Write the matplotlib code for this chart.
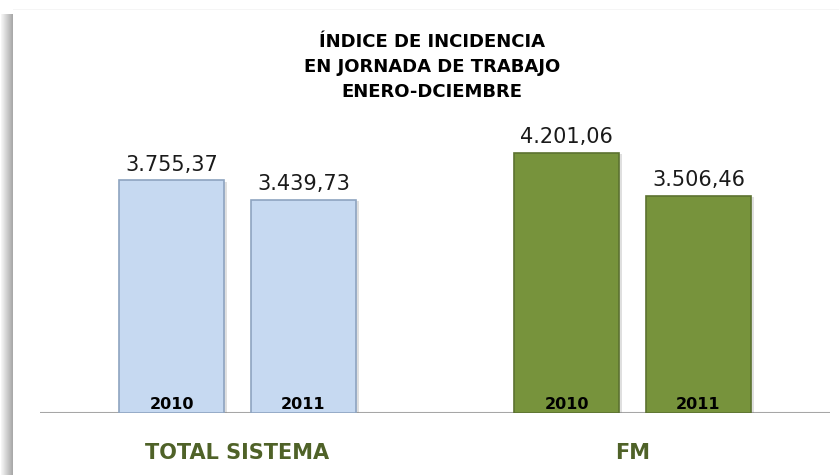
import matplotlib.pyplot as plt
import numpy as np
from matplotlib.patches import Rectangle

# --- Data ---
groups = ['TOTAL SISTEMA', 'FM']
years = ['2010', '2011']
total_sistema = [3755.37, 3439.73]
fm = [4201.06, 3506.46]

title_lines = ['ÍNDICE DE INCIDENCIA', 'EN JORNADA DE TRABAJO', 'ENERO-DCIEMBRE']


def fmt_es(v):
    s = f'{v:,.2f}'
    return s.replace(',', 'X').replace('.', ',').replace('X', '.')


narrow = ['Liberation Sans Narrow', 'DejaVu Sans']

fig = plt.figure(figsize=(8.39, 4.75), dpi=100)
fig.patch.set_facecolor('white')

# left shadow strip of the frame (darker towards the frame edge)
for i, a in enumerate(np.linspace(0.08, 0.75, 12)):
    fig.add_artist(Rectangle(((1 + i) / 839, 0), 1 / 839, 1 - 14 / 475,
                             transform=fig.transFigure, color='#8c8c8c',
                             alpha=a, lw=0))
# faint top edge of the frame
fig.add_artist(Rectangle((13 / 839, 1 - 10 / 475), 1, 1 / 475,
                         transform=fig.transFigure, color='gray',
                         alpha=0.08, lw=0))

ax = fig.add_axes([40 / 839, 62 / 475, 790 / 839, 310 / 475])
ax.set_xlim(-0.5, 1.5)
ax.set_ylim(0, 5000)
ax.axis('off')

# baseline and faint shadow under it
ax.axhline(0, color='#a6a6a6', lw=1.5, zorder=1)
for k, a in enumerate([0.10, 0.07, 0.04]):
    ax.axhline(-(k + 1) * 35, color='gray', alpha=a, lw=3, zorder=0)

offset = 0.167
width = 0.268
series = [total_sistema, fm]
face = ['#c6d9f1', '#77933c']
edge = ['#8ea4c0', '#5c7230']

for gi, vals in enumerate(series):
    for yi, v in enumerate(vals):
        x = gi + (yi * 2 - 1) * offset
        # drop shadow
        ax.bar(x + 0.006, v, width=width, bottom=-25, color='gray',
               alpha=0.25, lw=0, zorder=2)
        ax.bar(x, v, width=width, color=face[gi], edgecolor=edge[gi],
               lw=1.2, zorder=3)
        ax.annotate(fmt_es(v), (x, v), xytext=(0, 4),
                    textcoords='offset points', ha='center', va='bottom',
                    fontsize=15, color='#1a1a1a', zorder=4)
        ax.text(x, 140, years[yi], ha='center', va='center', fontsize=11.5,
                fontweight='bold', color='black', zorder=4)

for gi, name in enumerate(groups):
    fig.text((40 + (gi + 0.5) * 395) / 839, 1 - 453 / 475, name,
             ha='center', va='center', fontsize=15, fontweight='bold',
             color='#4f6228', family=narrow)

for li, line in enumerate(title_lines):
    fig.text(432 / 839, 1 - (42 + li * 25) / 475, line, ha='center',
             va='center', fontsize=13, fontweight='bold', color='black',
             family=narrow)

fig.savefig('out.png', dpi=100, facecolor='white')
